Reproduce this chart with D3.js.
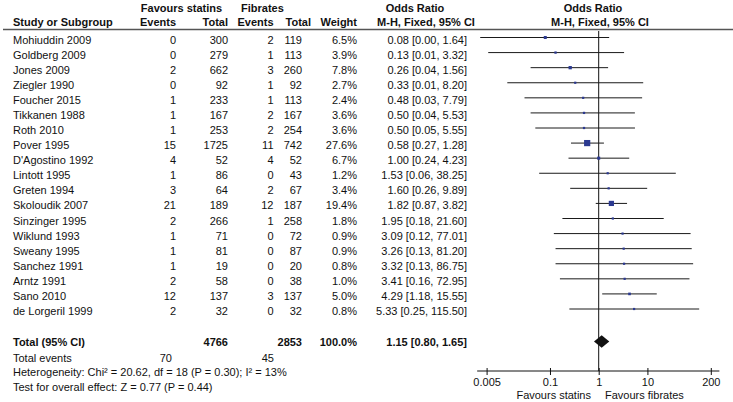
<!DOCTYPE html>
<html>
<head>
<meta charset="utf-8">
<script src="https://cdn.jsdelivr.net/npm/d3@7"></script>
<style>
  body { margin: 0; background: #fff; }
  svg { display: block; font-family: "Liberation Sans", Arial, sans-serif; font-size: 11px; }
  .bold { font-weight: bold; }
</style>
</head>
<body>
<div id="chart"></div>
<script>
// Forest plot: statins vs fibrates, Mantel-Haenszel fixed-effect odds ratios.

const studies = ["Mohiuddin 2009", "Goldberg 2009", "Jones 2009", "Ziegler 1990", "Foucher 2015",
  "Tikkanen 1988", "Roth 2010", "Pover 1995", "D'Agostino 1992", "Lintott 1995", "Greten 1994",
  "Skoloudik 2007", "Sinzinger 1995", "Wiklund 1993", "Sweany 1995", "Sanchez 1991", "Arntz 1991",
  "Sano 2010", "de Lorgeril 1999"];
const statinEvents = [0, 0, 2, 0, 1, 1, 1, 15, 4, 1, 3, 21, 2, 1, 1, 1, 2, 12, 2];
const statinTotal = [300, 279, 662, 92, 233, 167, 253, 1725, 52, 86, 64, 189, 266, 71, 81, 19, 58, 137, 32];
const fibrateEvents = [2, 1, 3, 1, 1, 2, 2, 11, 4, 0, 2, 12, 1, 0, 0, 0, 0, 3, 0];
const fibrateTotal = [119, 113, 260, 92, 113, 167, 254, 742, 52, 43, 67, 187, 258, 72, 87, 20, 38, 137, 32];
const weights = [6.5, 3.9, 7.8, 2.7, 2.4, 3.6, 3.6, 27.6, 6.7, 1.2, 3.4, 19.4, 1.8, 0.9, 0.9, 0.8, 1.0, 5.0, 0.8];
const oddsRatio = [0.08, 0.13, 0.26, 0.33, 0.48, 0.50, 0.50, 0.58, 1.00, 1.53, 1.60, 1.82, 1.95, 3.09, 3.26, 3.32, 3.41, 4.29, 5.33];
const ciLow = [0.0037, 0.0054, 0.04, 0.0133, 0.03, 0.04, 0.05, 0.27, 0.24, 0.06, 0.26, 0.87, 0.18, 0.12, 0.13, 0.13, 0.16, 1.18, 0.25];
const ciHigh = [1.64, 3.32, 1.56, 8.20, 7.79, 5.53, 5.55, 1.28, 4.23, 38.25, 9.89, 3.82, 21.60, 77.01, 81.20, 86.75, 72.95, 15.55, 115.50];

const total = {or: 1.15, low: 0.80, high: 1.65, statinTotal: 4766, fibrateTotal: 2853, weight: 100.0,
  statinEvents: 70, fibrateEvents: 45};
const heterogeneityText = "Heterogeneity: Chi\u00b2 = 20.62, df = 18 (P = 0.30); I\u00b2 = 13%";
const overallText = "Test for overall effect: Z = 0.77 (P = 0.44)";

const tickValues = [0.005, 0.1, 1, 10, 200];
const axisExtent = [0.0032, 300];

const W = 733, H = 402;
const svg = d3.select("#chart").append("svg").attr("width", W).attr("height", H);

const x = d3.scaleLog().domain([0.005, 200]).range([486.6, 710.8]);
const rowY = d3.scaleLinear().domain([0, 18]).range([39.5, 311]);
const boxSize = d3.scaleSqrt().domain([0, 27.6]).range([0, 6.2]);

// column right edges
const col = {ev1: 176, tot1: 228, ev2: 273.5, tot2: 302, weight: 357, or: 467};

function txt(xp, yp, s, anchor, bold) {
  return svg.append("text")
    .attr("x", xp).attr("y", yp)
    .attr("text-anchor", anchor || "start")
    .attr("class", bold ? "bold" : null)
    .attr("fill", "#111")
    .text(s);
}

// headers
txt(181.5, 11.5, "Favours statins", "middle", true);
txt(241, 11.5, "Fibrates", "start", true);
txt(415, 11.5, "Odds Ratio", "middle", true);
txt(593, 11.5, "Odds Ratio", "middle", true);
txt(13, 26, "Study or Subgroup", "start", true);
txt(col.ev1, 26, "Events", "end", true);
txt(col.tot1, 26, "Total", "end", true);
txt(col.ev2, 26, "Events", "end", true);
txt(311, 26, "Total", "end", true);
txt(col.weight, 26, "Weight", "end", true);
txt(426, 26, "M-H, Fixed, 95% CI", "middle", true);
txt(600, 26, "M-H, Fixed, 95% CI", "middle", true);

svg.append("line")
  .attr("x1", 3).attr("x2", W).attr("y1", 29.5).attr("y2", 29.5)
  .attr("stroke", "#555").attr("stroke-width", 1.5);

// study rows
const fmt2 = v => v.toFixed(2);
studies.forEach((name, i) => {
  const yb = rowY(i) + 4;
  txt(13, yb, name);
  txt(col.ev1, yb, statinEvents[i], "end");
  txt(col.tot1, yb, statinTotal[i], "end");
  txt(col.ev2, yb, fibrateEvents[i], "end");
  txt(col.tot2, yb, fibrateTotal[i], "end");
  txt(col.weight, yb, weights[i].toFixed(1) + "%", "end");
  txt(col.or, yb, `${fmt2(oddsRatio[i])} [${fmt2(ciLow[i])}, ${fmt2(ciHigh[i])}]`, "end");
});

// line of no effect
svg.append("line")
  .attr("x1", x(1)).attr("x2", x(1))
  .attr("y1", 31).attr("y2", 371)
  .attr("stroke", "#111").attr("stroke-width", 1);

// CI lines and boxes
const marks = svg.append("g");
studies.forEach((name, i) => {
  const ym = rowY(i) - 2;
  marks.append("line")
    .attr("x1", x(ciLow[i])).attr("x2", x(ciHigh[i]))
    .attr("y1", ym).attr("y2", ym)
    .attr("stroke", "#1a1a1a").attr("stroke-width", 1);
  const s = Math.max(2.2, boxSize(weights[i]));
  marks.append("rect")
    .attr("x", x(oddsRatio[i]) - s / 2).attr("y", ym - s / 2)
    .attr("width", s).attr("height", s)
    .attr("fill", "#2b3990");
});

// total row
const totalY = 341.5;
txt(13, totalY + 4, "Total (95% CI)", "start", true);
txt(col.tot1, totalY + 4, total.statinTotal, "end", true);
txt(col.tot2, totalY + 4, total.fibrateTotal, "end", true);
txt(col.weight, totalY + 4, total.weight.toFixed(1) + "%", "end", true);
txt(col.or, totalY + 4, `${fmt2(total.or)} [${fmt2(total.low)}, ${fmt2(total.high)}]`, "end", true);

svg.append("path")
  .attr("d", `M${x(total.low)},${totalY} L${x(total.or)},${totalY - 6.2} L${x(total.high)},${totalY} L${x(total.or)},${totalY + 6.2} Z`)
  .attr("fill", "#111");

txt(13, 361.5, "Total events");
txt(172, 361.5, total.statinEvents, "end");
txt(274, 361.5, total.fibrateEvents, "end");
txt(13, 376, heterogeneityText);
txt(13, 390.5, overallText);

// axis
const axisY = 371;
const axisG = svg.append("g")
  .attr("transform", `translate(0,${axisY})`)
  .call(d3.axisBottom(x).tickValues(tickValues).tickFormat(d => String(d)).tickSizeOuter(0));
axisG.select(".domain").remove();
axisG.selectAll(".tick line").attr("y1", -3).attr("y2", 4).attr("stroke", "#111");
axisG.selectAll(".tick text")
  .attr("y", 14.7).attr("dy", null)
  .attr("fill", "#111")
  .style("font-family", "\"Liberation Sans\", Arial, sans-serif").style("font-size", "11px");
axisG.append("line")
  .attr("x1", x(axisExtent[0])).attr("x2", x(axisExtent[1]))
  .attr("stroke", "#111").attr("stroke-width", 1);

txt(591, 399, "Favours statins", "end");
txt(605, 399, "Favours fibrates", "start");
</script>
</body>
</html>
